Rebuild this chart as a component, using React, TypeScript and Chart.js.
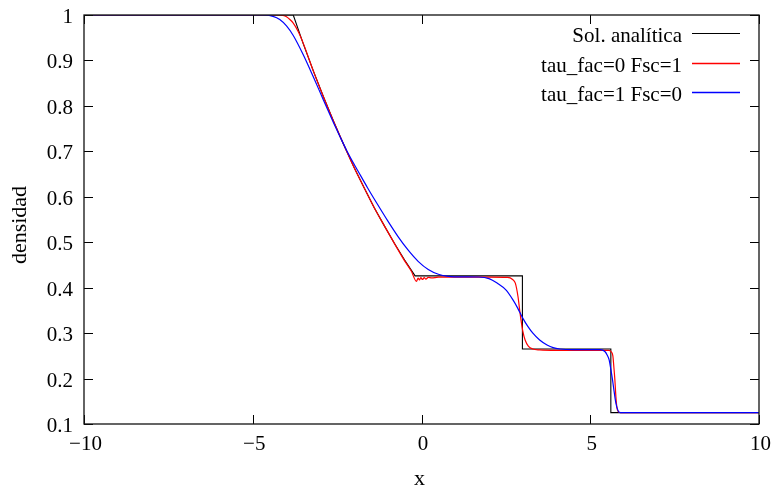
import React, { useEffect, useRef } from 'react';
import { Chart, registerables } from 'chart.js';

Chart.register(...registerables);

// Analytic solution
const exactX = [-10, -3.8, -3.5, -3.2, -2.9, -2.6, -2.3, -2.0, -1.7, -1.4, -1.1, -0.8, -0.5, -0.19, 2.99, 2.99, 5.61, 5.61, 10];
const exactY = [1, 1, 0.936, 0.876, 0.819, 0.765, 0.714, 0.665, 0.62, 0.576, 0.536, 0.497, 0.461, 0.426, 0.426, 0.265, 0.265, 0.125, 0.125];

// tau_fac=0 Fsc=1
const redX = [-10, -4.25, -4.1, -4.0, -3.9, -3.8, -3.65, -3.5, -3.2, -2.9, -2.6, -2.3, -2.0, -1.7, -1.4, -1.1, -0.8, -0.5, -0.3, -0.15, -0.1, -0.06, -0.02, 0.03, 0.08, 0.13, 0.2, 0.3, 0.5, 1.0, 2.0, 2.55, 2.7, 2.78, 2.86, 2.92, 3.0, 3.07, 3.17, 3.3, 3.5, 4.0, 5.0, 5.55, 5.62, 5.67, 5.7, 5.73, 5.76, 5.79, 5.83, 5.9, 10];
const redY = [1, 1, 0.999, 0.996, 0.99, 0.982, 0.963, 0.937, 0.876, 0.819, 0.765, 0.714, 0.665, 0.62, 0.576, 0.536, 0.497, 0.459, 0.436, 0.414, 0.421, 0.417, 0.422, 0.418, 0.422, 0.419, 0.4225, 0.4215, 0.423, 0.423, 0.423, 0.4225, 0.418, 0.41, 0.38, 0.344, 0.305, 0.285, 0.271, 0.265, 0.263, 0.262, 0.262, 0.262, 0.259, 0.25, 0.225, 0.197, 0.16, 0.136, 0.127, 0.125, 0.125];

// tau_fac=1 Fsc=0
const blueX = [-10, -4.7, -4.4, -4.2, -4.0, -3.8, -3.5, -3.2, -2.9, -2.6, -2.4, -2.217, -2.0, -1.9, -1.6, -1.3, -1.0, -0.7, -0.4, -0.1, 0.2, 0.5, 0.8, 1.2, 1.7, 2.0, 2.24, 2.5, 2.71, 2.85, 3.0, 3.15, 3.3, 3.5, 3.72, 3.9, 4.1, 4.5, 5.3, 5.44, 5.5, 5.56, 5.61, 5.66, 5.71, 5.76, 5.82, 5.88, 10];
const blueY = [1, 1, 0.997, 0.99, 0.976, 0.955, 0.912, 0.863, 0.812, 0.762, 0.73, 0.702, 0.672, 0.659, 0.62, 0.583, 0.547, 0.513, 0.483, 0.458, 0.44, 0.4295, 0.425, 0.4237, 0.4235, 0.42, 0.41, 0.395, 0.373, 0.355, 0.333, 0.315, 0.3, 0.285, 0.274, 0.268, 0.265, 0.2635, 0.2635, 0.259, 0.252, 0.241, 0.22, 0.197, 0.17, 0.146, 0.13, 0.125, 0.125];

const xTicks = [-10, -5, 0, 5, 10];
const yTicks = [0.1, 0.2, 0.3, 0.4, 0.5, 0.6, 0.7, 0.8, 0.9, 1];
const seriesLabels = ['Sol. analítica', 'tau_fac=0 Fsc=1', 'tau_fac=1 Fsc=0'];
const seriesColors = ['#000000', '#ff0000', '#0000ff'];
const xTitle = 'x';
const yTitle = 'densidad';

const FONT = '"Liberation Serif", "Times New Roman", serif';

function fmtX(v: number): string {
  return v < 0 ? '\u2212' + Math.abs(v) : String(v);
}
function fmtY(v: number): string {
  return String(Number(v.toFixed(1)));
}
function pts(xs: number[], ys: number[]) {
  return xs.map((x, i) => ({ x, y: ys[i] }));
}

const framePlugin = {
  id: 'gnuFrame',
  afterDatasetsDraw(chart: any) {
    const { ctx, chartArea: a, scales } = chart;
    const sx = scales.x;
    const sy = scales.y;
    ctx.save();
    ctx.strokeStyle = '#000';
    ctx.lineWidth = 1;
    ctx.beginPath();
    for (const v of xTicks) {
      const px = Math.round(sx.getPixelForValue(v)) + 0.5;
      ctx.moveTo(px, a.bottom);
      ctx.lineTo(px, a.bottom - 9);
      ctx.moveTo(px, a.top);
      ctx.lineTo(px, a.top + 9);
    }
    for (const v of yTicks) {
      const py = Math.round(sy.getPixelForValue(v)) + 0.5;
      ctx.moveTo(a.left, py);
      ctx.lineTo(a.left + 9, py);
      ctx.moveTo(a.right, py);
      ctx.lineTo(a.right - 9, py);
    }
    ctx.stroke();
    ctx.lineWidth = 1.3;
    ctx.strokeStyle = '#111';
    ctx.strokeRect(a.left, a.top, a.right - a.left, a.bottom - a.top);

    // tick labels
    ctx.fillStyle = '#000';
    ctx.font = `21px ${FONT}`;
    ctx.textBaseline = 'alphabetic';
    ctx.textAlign = 'right';
    for (const v of yTicks) {
      const py = sy.getPixelForValue(v);
      ctx.fillText(fmtY(v), a.left - 11, py + 8);
    }
    ctx.textAlign = 'center';
    for (const v of xTicks) {
      const px = sx.getPixelForValue(v);
      ctx.fillText(fmtX(v), px + 1.5, a.bottom + 26);
    }

    // axis titles
    ctx.font = `22px ${FONT}`;
    ctx.textAlign = 'center';
    ctx.fillText(xTitle, (a.left + a.right) / 2 - 2, 485);
    ctx.save();
    ctx.translate(26, 225);
    ctx.rotate(-Math.PI / 2);
    ctx.fillText(yTitle, 0, 0);
    ctx.restore();

    // legend
    ctx.font = `21px ${FONT}`;
    ctx.textAlign = 'right';
    const rows = [33, 62.5, 92];
    seriesLabels.forEach((lab, i) => {
      const yy = rows[i];
      ctx.fillStyle = '#000';
      ctx.fillText(lab, 682, yy + 9);
      ctx.strokeStyle = seriesColors[i];
      ctx.lineWidth = i === 0 ? 1.2 : 1.5;
      ctx.beginPath();
      ctx.moveTo(692, Math.round(yy) + 0.5);
      ctx.lineTo(740, Math.round(yy) + 0.5);
      ctx.stroke();
    });
    ctx.restore();
  },
};

export default function App() {
  const ref = useRef<HTMLCanvasElement | null>(null);
  useEffect(() => {
    if (!ref.current) return;
    const chart = new Chart(ref.current, {
      type: 'line',
      data: {
        datasets: [
          {
            label: seriesLabels[0],
            data: pts(exactX, exactY),
            borderColor: seriesColors[0],
            borderWidth: 1.1,
            pointRadius: 0,
            tension: 0,
            order: 3,
          },
          {
            label: seriesLabels[1],
            data: pts(redX, redY),
            borderColor: seriesColors[1],
            borderWidth: 1.2,
            pointRadius: 0,
            cubicInterpolationMode: 'monotone',
            order: 2,
          },
          {
            label: seriesLabels[2],
            data: pts(blueX, blueY),
            borderColor: seriesColors[2],
            borderWidth: 1.2,
            pointRadius: 0,
            cubicInterpolationMode: 'monotone',
            order: 1,
          },
        ],
      },
      options: {
        animation: false,
        responsive: false,
        devicePixelRatio: 1,
        layout: { padding: { top: 15, right: 15, left: 0, bottom: 0 } },
        plugins: { legend: { display: false }, tooltip: { enabled: false } },
        scales: {
          x: {
            type: 'linear',
            min: -10,
            max: 10,
            ticks: { display: false, stepSize: 5 },
            grid: { display: false, drawTicks: false },
            border: { display: false },
            afterFit: (s: any) => {
              s.height = 66;
            },
          },
          y: {
            type: 'linear',
            min: 0.1,
            max: 1,
            ticks: { display: false, stepSize: 0.1 },
            grid: { display: false, drawTicks: false },
            border: { display: false },
            afterFit: (s: any) => {
              s.width = 84;
            },
          },
        },
      } as any,
      plugins: [framePlugin],
    });
    return () => chart.destroy();
  }, []);
  return (
    <div style={{ position: 'absolute', left: 0, top: 0, width: 774, height: 490, background: '#fff' }}>
      <canvas ref={ref} width={774} height={490} style={{ width: 774, height: 490 }} />
    </div>
  );
}
